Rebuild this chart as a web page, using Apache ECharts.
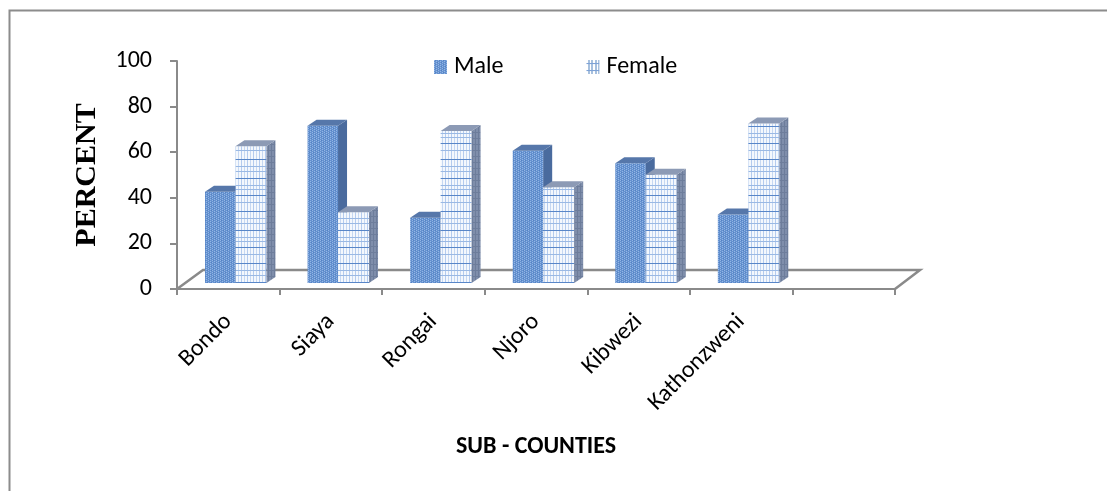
<!DOCTYPE html>
<html>
<head>
<meta charset="utf-8">
<script src="https://cdn.jsdelivr.net/npm/echarts@6/dist/echarts.min.js"></script>
<style>
  html, body { margin: 0; padding: 0; background: #ffffff; }
  #chart { width: 1107px; height: 491px; }
</style>
</head>
<body>
<div id="chart"></div>
<script>
// Sub-county gender split, percent
const categories = ['Bondo', 'Siaya', 'Rongai', 'Njoro', 'Kibwezi', 'Kathonzweni', ''];
const male   = [40, 69, 28.6, 58, 52.5, 30];
const female = [60, 31, 66.7, 42, 47.5, 70];
const valueTicks = [0, 20, 40, 60, 80, 100];

const FONT = 'Carlito, Lato, "Liberation Sans", sans-serif';
const AXIS_GREY = '#8a8a8a';

// ---- fill patterns -------------------------------------------------------
function makeCanvas(w, h, draw) {
  const c = document.createElement('canvas');
  c.width = w; c.height = h;
  draw(c.getContext('2d'));
  return c;
}
function pattern(canvas) { return { image: canvas, repeat: 'repeat' }; }

// Male: blue with a fine light dot grid
const maleFront = pattern(makeCanvas(4, 4, g => {
  g.fillStyle = '#6592d0'; g.fillRect(0, 0, 4, 4);
  g.fillStyle = '#94b6e5';
  [[0, 0], [0, 2], [2, 1], [2, 3]].forEach(p => g.fillRect(p[0], p[1], 1, 1));
  g.fillStyle = '#5582c3';
  [[1, 0], [3, 2]].forEach(p => g.fillRect(p[0], p[1], 1, 1));
}));
// Female: pale plaid, thin vertical rules and irregular horizontal bands
const femaleFront = pattern(makeCanvas(6, 52, g => {
  g.fillStyle = '#f4f8fd'; g.fillRect(0, 0, 6, 52);
  g.fillStyle = '#b4cbee'; g.fillRect(1, 0, 1, 52);
  g.fillStyle = '#c6d8f2'; g.fillRect(4, 0, 1, 52);
  const strong = [3, 22, 39];
  const light = [10, 15, 29, 33, 46];
  g.fillStyle = '#5886c8'; strong.forEach(y => g.fillRect(0, y, 6, 1));
  g.fillStyle = '#9ab9e4'; light.forEach(y => g.fillRect(0, y, 6, 1));
}));
const femaleSide = pattern(makeCanvas(3, 6, g => {
  g.fillStyle = '#7f8eab'; g.fillRect(0, 0, 3, 6);
  g.fillStyle = '#6d7d9b'; g.fillRect(0, 0, 3, 1); g.fillRect(1, 0, 1, 6);
}));
const maleLegend = maleFront;
const femaleLegend = pattern(makeCanvas(7, 7, g => {
  g.fillStyle = '#ffffff'; g.fillRect(0, 0, 7, 7);
  g.fillStyle = '#4f81bd'; g.fillRect(2, 0, 1, 7); g.fillRect(5, 0, 1, 7);
  g.fillStyle = '#7ea2d6'; g.fillRect(0, 3, 7, 1);
}));

const MALE_FACES = { front: maleFront, side: '#4a6b9e', top: '#5677aa' };
const FEMALE_FACES = { front: femaleFront, side: femaleSide, top: '#8c9ab5' };

// ---- pseudo-3D column geometry ------------------------------------------
const DEPTH = [9, -6];   // receding edge of each column
const LIFT = 6;          // columns stand this far behind the front floor edge
const MALE_SLOT = [-0.227, 0.070];   // left/right of front face, in band widths from centre
const FEMALE_SLOT = [0.070, 0.372];
const FLOOR_BACK = [26, -19];

function columnRenderer(slot, faces) {
  return function (params, api) {
    const idx = api.value(0);
    const base = api.coord([idx, 0]);
    const top = api.coord([idx, api.value(1)]);
    const band = api.size([1, 0])[0];
    const x0 = base[0] + slot[0] * band;
    const x1 = base[0] + slot[1] * band;
    const yb = base[1] - LIFT;
    const yt = top[1] - LIFT;
    const dx = DEPTH[0], dy = DEPTH[1];
    return {
      type: 'group',
      children: [
        { type: 'polygon', shape: { points: [[x0, yt], [x1, yt], [x1, yb], [x0, yb]] },
          style: { fill: faces.front } },
        { type: 'polygon', shape: { points: [[x1, yt], [x1 + dx, yt + dy], [x1 + dx, yb + dy], [x1, yb]] },
          style: { fill: faces.side } },
        { type: 'polygon', shape: { points: [[x0, yt], [x0 + dx, yt + dy], [x1 + dx, yt + dy], [x1, yt]] },
          style: { fill: faces.top } }
      ]
    };
  };
}

function floorRenderer(params) {
  const cs = params.coordSys;
  const l = cs.x, r = cs.x + cs.width, y = cs.y + cs.height;
  return {
    type: 'polyline',
    shape: { points: [[l, y], [l + FLOOR_BACK[0], y + FLOOR_BACK[1]],
                      [r + FLOOR_BACK[0] - 1, y + FLOOR_BACK[1]], [r, y]] },
    style: { stroke: AXIS_GREY, lineWidth: 2.5, fill: null }
  };
}

const chart = echarts.init(document.getElementById('chart'), null, { renderer: 'canvas' });
chart.setOption({
  backgroundColor: '#ffffff',
  animation: false,
  graphic: [{
    type: 'rect', left: 7, top: 8, z: 0,
    shape: { width: 1200, height: 600 },
    style: { fill: null, stroke: '#8c8c8c', lineWidth: 2 }
  }],
  legend: {
    left: 429, top: 50,
    icon: 'rect', itemWidth: 13, itemHeight: 14, itemGap: 83,
    textStyle: { fontFamily: FONT, fontSize: 24, color: '#000', padding: [0, 0, 0, 2] },
    data: [
      { name: 'Male', itemStyle: { color: maleLegend } },
      { name: 'Female', itemStyle: { color: femaleLegend } }
    ]
  },
  grid: { left: 177, right: 212, top: 61, bottom: 202 },
  xAxis: {
    type: 'category',
    data: categories,
    boundaryGap: true,
    axisLine: { lineStyle: { color: AXIS_GREY, width: 2 } },
    axisTick: { show: true, length: 6, lineStyle: { color: AXIS_GREY, width: 2 } },
    axisLabel: { rotate: 45, interval: 0, margin: 29, fontFamily: FONT, fontSize: 24, color: '#000' },
    name: 'SUB - COUNTIES',
    nameLocation: 'middle',
    nameGap: 146,
    nameTextStyle: { fontFamily: FONT, fontWeight: 'bold', fontSize: 24, color: '#000' }
  },
  yAxis: {
    type: 'value',
    min: valueTicks[0],
    max: valueTicks[valueTicks.length - 1],
    interval: valueTicks[1] - valueTicks[0],
    axisLine: { show: true, lineStyle: { color: AXIS_GREY, width: 2 } },
    axisTick: { show: true, length: 7, lineStyle: { color: AXIS_GREY, width: 2 } },
    axisLabel: { margin: 25, fontFamily: FONT, fontSize: 24, color: '#000' },
    splitLine: { show: false },
    name: 'PERCENT',
    nameLocation: 'middle',
    nameRotate: 90,
    nameGap: 75,
    nameTextStyle: { fontFamily: '"Liberation Serif", "DejaVu Serif", serif', fontWeight: 'bold', fontSize: 30, color: '#000' }
  },
  series: [
    { type: 'custom', name: 'floor', z: 1, silent: true,
      renderItem: floorRenderer, data: [[0, 0]] },
    { type: 'custom', name: 'Male', z: 2,
      itemStyle: { color: maleLegend },
      renderItem: columnRenderer(MALE_SLOT, MALE_FACES),
      encode: { x: 0, y: 1 },
      data: male.map((v, i) => [i, v]) },
    { type: 'custom', name: 'Female', z: 3,
      itemStyle: { color: femaleLegend },
      renderItem: columnRenderer(FEMALE_SLOT, FEMALE_FACES),
      encode: { x: 0, y: 1 },
      data: female.map((v, i) => [i, v]) }
  ]
});
</script>
</body>
</html>
